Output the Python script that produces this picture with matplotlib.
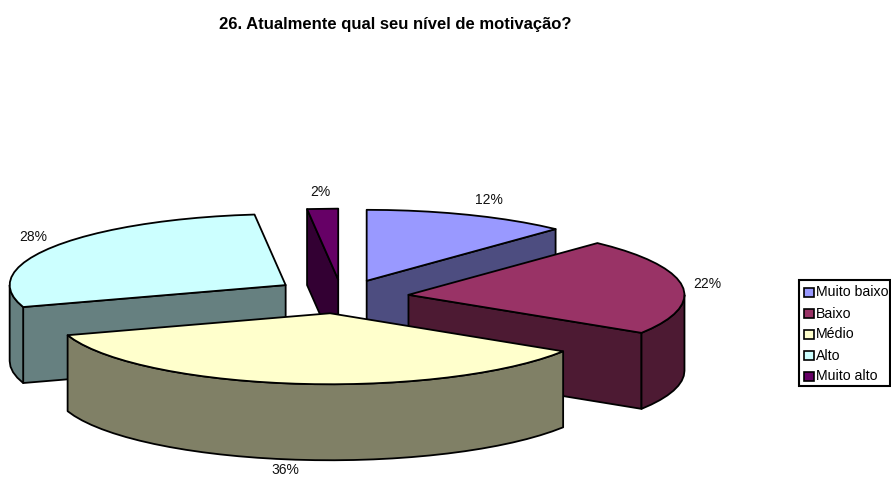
"""26. Atualmente qual seu nivel de motivacao? - pizza 3D explodida estilo Excel."""
import numpy as np
import matplotlib
matplotlib.use("Agg")
import matplotlib.pyplot as plt
from matplotlib.patches import Polygon, Rectangle

plt.rcParams["font.family"] = ["Liberation Sans", "DejaVu Sans"]

TITLE = "26. Atualmente qual seu nível de motivação?"
CATEGORIES = ["Muito baixo", "Baixo", "Médio", "Alto", "Muito alto"]
VALUES = [12.0, 22.0, 36.0, 28.2, 1.8]
TOP_COLORS = ["#9999FF", "#993366", "#FFFFCC", "#CCFFFF", "#660066"]
SIDE_COLORS = ["#4D4D80", "#4D1A33", "#808066", "#668080", "#330033"]

# geometria em pixels da figura
CX, CY = 342, 297
A, B = 276, 71
DEPTH = 76
EXPLODE = (67, 17.4)
NUDGE = [(0, 0), (0, 0), (-3.5, -1), (0, -2.5), (0, 0)]
DRAW_ORDER = [4, 0, 3, 1, 2]
LABEL_POS = [(489, 199.5), (707, 283.5), (285, 470.5), (33, 236.5), (320, 192.5)]
FS = 10
LW = 1.3


def arc(cx, cy, t0, t1):
    n = max(2, int(abs(t1 - t0) / 4) + 1)
    t = np.radians(np.linspace(t0, t1, n))
    return np.column_stack([cx + A * np.sin(t), cy - B * np.cos(t)])


def add_poly(ax, pts, color, z):
    ax.add_patch(Polygon(pts, closed=True, facecolor=color, edgecolor="black",
                         lw=LW, joinstyle="round", zorder=z))


def draw_slice(ax, i, t0, t1, z):
    mid = np.radians((t0 + t1) / 2)
    cx = CX + EXPLODE[0] * np.sin(mid) + NUDGE[i][0]
    cy = CY - EXPLODE[1] * np.cos(mid) + NUDGE[i][1]
    down = np.array([0, DEPTH])
    centre = np.array([cx, cy])

    # faces radiais, so as que olham para a frente
    for t, vis in [(t0, np.sin(np.radians(t0)) < -1e-6), (t1, np.sin(np.radians(t1)) > 1e-6)]:
        if vis:
            edge = arc(cx, cy, t, t)[0]
            add_poly(ax, [centre, edge, edge + down, centre + down], SIDE_COLORS[i], z)

    # borda externa visivel (metade da frente da elipse)
    r0, r1 = max(t0, 90), min(t1, 270)
    if r1 > r0:
        top = arc(cx, cy, r0, r1)
        add_poly(ax, np.vstack([top, (top + down)[::-1]]), SIDE_COLORS[i], z)

    # tampa
    add_poly(ax, np.vstack([centre, arc(cx, cy, t0, t1)]), TOP_COLORS[i], z)


def main():
    fig = plt.figure(figsize=(8.91, 4.78), dpi=100)
    ax = fig.add_axes([0, 0, 1, 1])
    ax.set_xlim(0, 891)
    ax.set_ylim(478, 0)
    ax.axis("off")

    edges = np.concatenate([[0], np.cumsum(VALUES)]) / sum(VALUES) * 360
    for z, i in enumerate(DRAW_ORDER):
        draw_slice(ax, i, edges[i], edges[i + 1], z + 1)

    for (x, y), v in zip(LABEL_POS, VALUES):
        ax.text(x, y, f"{v:.0f}%", ha="center", va="center", fontsize=FS, color="#111111", zorder=10)

    ax.text(395, 24.5, TITLE, ha="center", va="center", fontsize=12, fontweight="bold", zorder=10)

    # legenda
    ax.add_patch(Rectangle((799, 280), 91, 106, facecolor="white", edgecolor="black",
                           lw=1.5, zorder=10))
    for k, name in enumerate(CATEGORIES):
        y = 292 + k * 21
        ax.add_patch(Rectangle((803.5, y - 4.5), 10, 9, facecolor=TOP_COLORS[k],
                               edgecolor="black", lw=1.2, zorder=11))
        ax.text(815.5, y + 0.5, name, ha="left", va="center", fontsize=10.2, zorder=11)

    fig.savefig("out.png", dpi=100)


if __name__ == "__main__":
    main()
